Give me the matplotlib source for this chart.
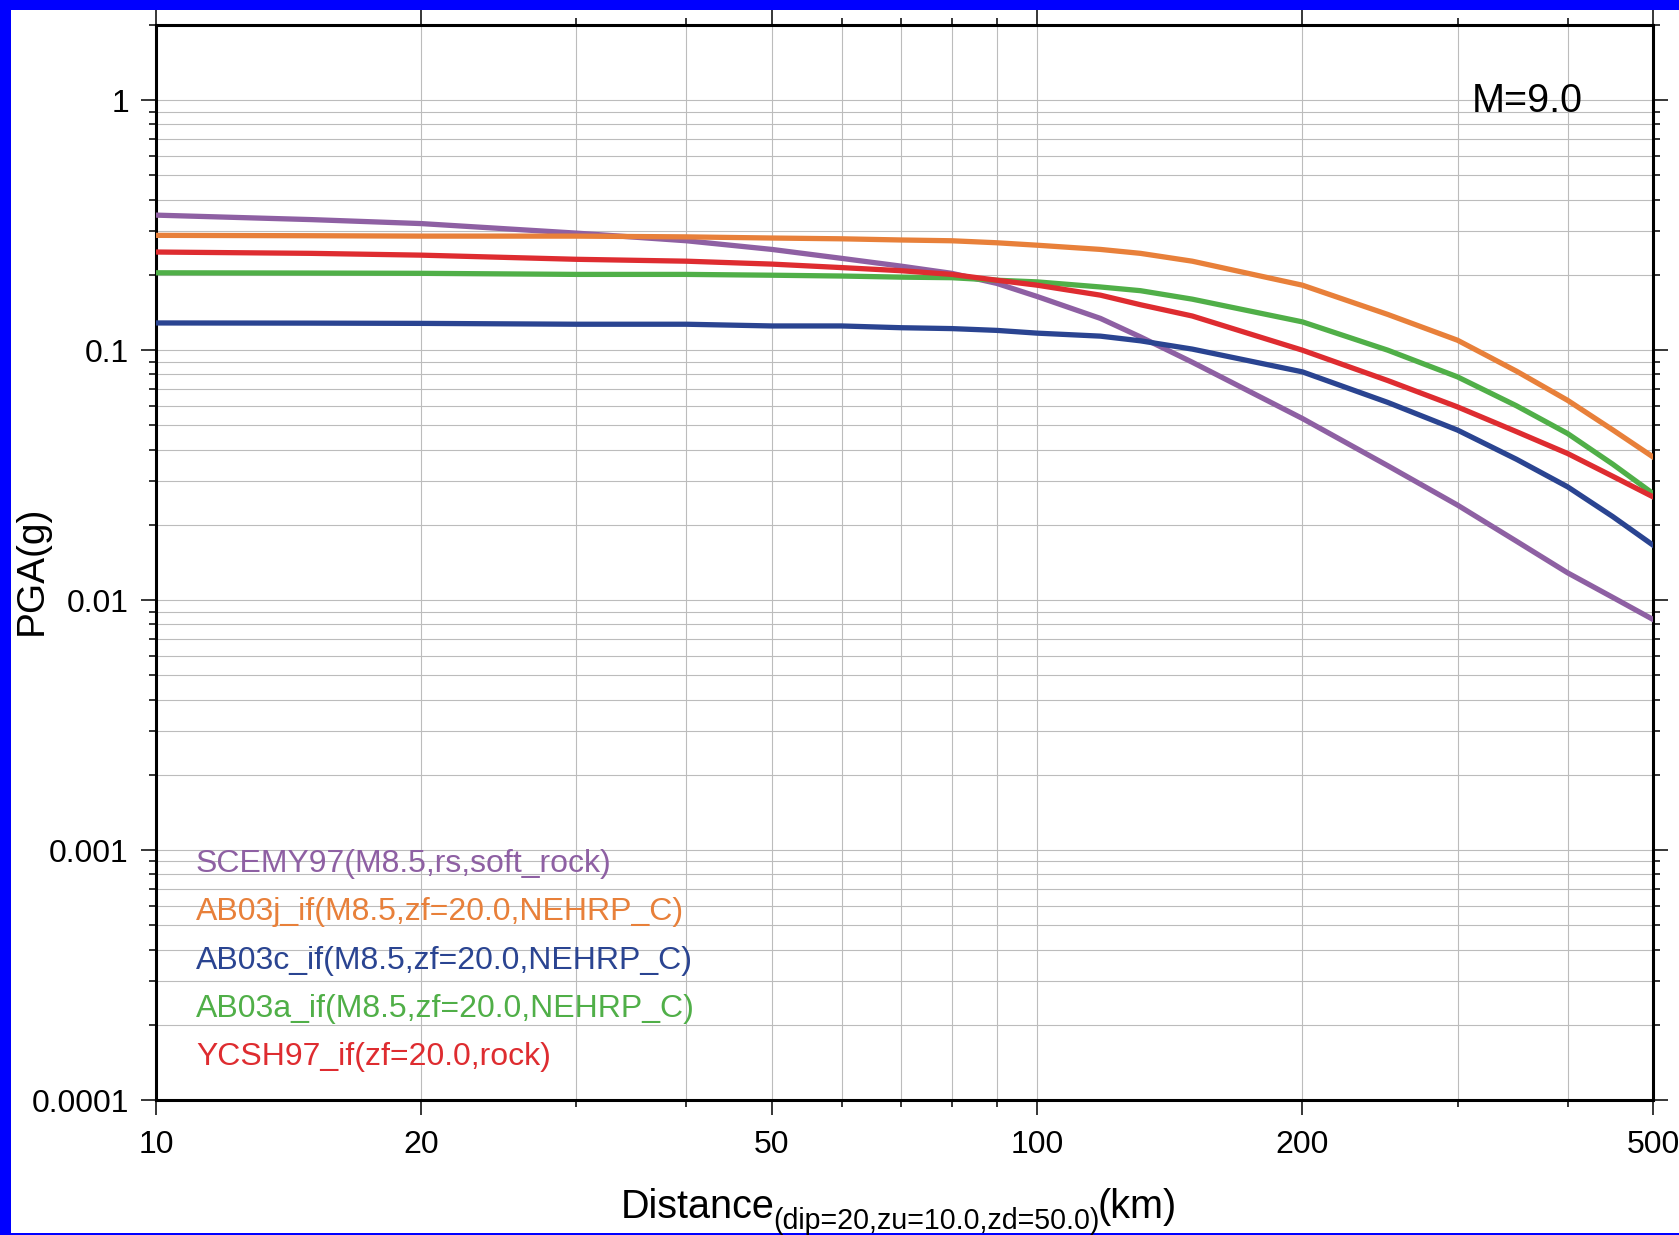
import matplotlib
matplotlib.use("Agg")
import matplotlib.pyplot as plt
from matplotlib.patches import Rectangle
from matplotlib.ticker import FixedLocator, FixedFormatter, LogLocator, NullFormatter

# distance (km) and PGA (g)
dist = [10, 15, 20, 30, 40, 50, 60, 70, 80, 90, 100, 118, 131, 150,
        200, 250, 300, 350, 400, 450, 500]
scemy97 = [0.347, 0.333, 0.321, 0.294, 0.274, 0.253, 0.233, 0.217, 0.203, 0.185,
           0.164, 0.134, 0.113, 0.0895, 0.0533, 0.0345, 0.024, 0.0172, 0.01286,
           0.01026, 0.00837]
ab03j = [0.288, 0.287, 0.286, 0.286, 0.284, 0.281, 0.279, 0.276, 0.274, 0.269,
         0.263, 0.253, 0.244, 0.227, 0.182, 0.139, 0.1096, 0.0824, 0.063,
         0.048, 0.0374]
ab03c = [0.1285, 0.1283, 0.128, 0.127, 0.127, 0.125, 0.125, 0.123, 0.122, 0.120,
         0.117, 0.1138, 0.109, 0.101, 0.0819, 0.0618, 0.0479, 0.0366, 0.0284,
         0.0216, 0.0166]
ab03a = [0.204, 0.2035, 0.203, 0.201, 0.201, 0.1995, 0.198, 0.196, 0.195, 0.1905,
         0.1876, 0.179, 0.173, 0.160, 0.1298, 0.100, 0.0782, 0.0599, 0.0464,
         0.035, 0.0267]
ycsh97 = [0.247, 0.244, 0.240, 0.231, 0.227, 0.221, 0.214, 0.208, 0.201, 0.1905,
          0.182, 0.166, 0.152, 0.137, 0.100, 0.0756, 0.0593, 0.0472, 0.0386,
          0.0313, 0.0259]

labels = ["SCEMY97(M8.5,rs,soft_rock)", "AB03j_if(M8.5,zf=20.0,NEHRP_C)",
          "AB03c_if(M8.5,zf=20.0,NEHRP_C)", "AB03a_if(M8.5,zf=20.0,NEHRP_C)",
          "YCSH97_if(zf=20.0,rock)"]
colors = ["#8E60A3", "#E8803A", "#2A4491", "#50AF48", "#DE2C30"]
series = [scemy97, ab03j, ab03c, ab03a, ycsh97]

x_major = [10, 20, 50, 100, 200, 500]
x_minor = [30, 40, 60, 70, 80, 90, 300, 400]
y_major = [1e-4, 1e-3, 1e-2, 1e-1, 1]
y_labels = ["0.0001", "0.001", "0.01", "0.1", "1"]

plt.rcParams.update({
    "font.family": ["Liberation Sans", "DejaVu Sans"],
})

W, H = 1679, 1235
fig = plt.figure(figsize=(W / 100, H / 100), dpi=100)
fig.patch.set_facecolor("white")


def px(x, y):
    return x / W, 1 - y / H


ax = fig.add_axes([156 / W, 1 - 1100 / H, (1653 - 156) / W, (1100 - 25) / H])
ax.set_xscale("log")
ax.set_yscale("log")
ax.set_xlim(10, 500)
ax.set_ylim(1e-4, 2.0)

for vals, lab, col in zip(series, labels, colors):
    ax.plot(dist, vals, color=col, lw=3.8, solid_joinstyle="round", zorder=3)

ax.xaxis.set_major_locator(FixedLocator(x_major))
ax.xaxis.set_major_formatter(FixedFormatter([str(v) for v in x_major]))
ax.xaxis.set_minor_locator(FixedLocator(x_minor))
ax.xaxis.set_minor_formatter(NullFormatter())
ax.yaxis.set_major_locator(FixedLocator(y_major))
ax.yaxis.set_major_formatter(FixedFormatter(y_labels))
ax.yaxis.set_minor_locator(LogLocator(base=10, subs=range(2, 10)))
ax.yaxis.set_minor_formatter(NullFormatter())

ax.grid(True, which="both", color="#bcbcbc", linewidth=0.8, zorder=0)
for sp in ax.spines.values():
    sp.set_linewidth(2.2)
ax.tick_params(which="both", direction="out", top=True, right=True, width=1.1,
               colors="black")
ax.tick_params(which="major", length=10.5, labelsize=23)
ax.tick_params(which="minor", length=5)
ax.tick_params(axis="x", which="major", pad=11)
ax.tick_params(axis="y", which="major", pad=9)

ax.text(0.953, 0.9194, "M=9.0", transform=ax.transAxes, ha="right",
        va="baseline", fontsize=28.5)

for i, (lab, col) in enumerate(zip(labels, colors)):
    fig.text(*px(196, 872 + 48.25 * i), lab, color=col, fontsize=23,
             ha="left", va="baseline")

# x label with a subscript, laid out piece by piece
renderer = fig.canvas.get_renderer()
x_cur = 621
parts = [("Distance", 28.5, 0), ("(dip=20,zu=10.0,zd=50.0)", 20.6, 11), ("(km)", 28.5, 0)]
for txt, size, drop in parts:
    t = fig.text(*px(x_cur, 1218 + drop), txt, fontsize=size, ha="left", va="baseline")
    bb = t.get_window_extent(renderer)
    x_cur += bb.width - 2

fig.text(*px(32, 570), "PGA(g)", rotation=90, fontsize=28, ha="center", va="center")

# blue frame around the image
for x0, y0, w, h in [(0, 0, 11, H), (0, 0, W, 10), (0, H - 2, W, 2)]:
    fig.add_artist(Rectangle((x0 / W, 1 - (y0 + h) / H), w / W, h / H,
                             transform=fig.transFigure, color="#0000FF", lw=0))

fig.savefig("out.png", dpi=100)
